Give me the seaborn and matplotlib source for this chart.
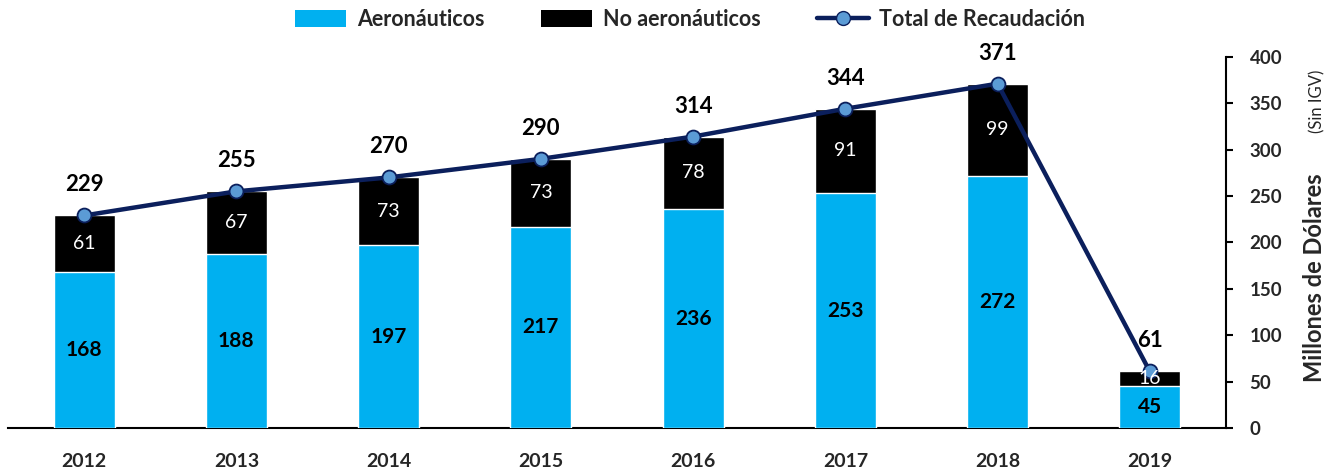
import matplotlib
matplotlib.use('Agg')
import matplotlib.pyplot as plt
from matplotlib.patches import Patch
from matplotlib.lines import Line2D
from matplotlib.font_manager import FontProperties
import matplotlib.transforms as mtransforms
import pandas as pd
import seaborn as sns

# ---------------------------
# Data
# ---------------------------
years = ["2012", "2013", "2014", "2015", "2016", "2017", "2018", "2019"]
aero = [168, 188, 197, 217, 236, 253, 272, 45]
no_aero = [61, 67, 73, 73, 78, 91, 99, 16]
total = [229, 255, 270, 290, 314, 344, 371, 61]

df = pd.DataFrame({"Año": years, "Aero": aero, "NoAero": no_aero, "Total": total})

# colours
c_aero = "#00B0F0"
c_noaero = "#000000"
c_line = "#0B1F5C"
c_marker = "#5B9BD5"

sns.set_theme(style="white")
plt.rcParams['font.family'] = ['Lato', 'DejaVu Sans']

fig = plt.figure(figsize=(13.34, 4.73), dpi=100)
ax = fig.add_axes([0.006, 0.095, 0.913, 0.785])

# stacked bars: total (black) first, aero (blue) on top of it
sns.barplot(data=df, x="Año", y="Total", color=c_noaero, saturation=1,
            width=0.4, ax=ax, zorder=2)
sns.barplot(data=df, x="Año", y="Aero", color=c_aero, saturation=1,
            width=0.4, ax=ax, zorder=3)

# total line
sns.lineplot(data=df, x="Año", y="Total", sort=False, color=c_line,
             linewidth=3.2, marker="o", markersize=10,
             markerfacecolor=c_marker, markeredgecolor=c_line,
             markeredgewidth=1.3, ax=ax, zorder=5)

# labels
for i in range(len(years)):
    ax.text(i, aero[i] / 2, str(aero[i]), ha="center", va="center",
            fontsize=15, fontweight="bold", color="black", zorder=6)
    ax.text(i, aero[i] + no_aero[i] / 2, str(no_aero[i]), ha="center",
            va="center", fontsize=14, color="white", zorder=6)
    ax.annotate(str(total[i]), (i, total[i]), xytext=(0, 22),
                textcoords="offset points", ha="center", va="center",
                fontsize=16, fontweight="bold", color="black", zorder=6)

# axes styling
ax.set_xlim(-0.5, 7.5)
ax.set_ylim(0, 400)
ax.set_yticks(range(0, 401, 50))
ax.yaxis.tick_right()
for s in ["left", "top"]:
    ax.spines[s].set_visible(False)
ax.spines["bottom"].set_color("black")
ax.spines["bottom"].set_linewidth(1.5)
ax.spines["right"].set_color("black")
ax.spines["right"].set_linewidth(1.5)
ax.tick_params(axis="x", length=0, pad=18, labelsize=14)
ax.tick_params(axis="y", right=True, left=False, direction="out", length=5,
               width=1.5, color="black", pad=12, labelsize=13.5)
for lbl in ax.get_xticklabels() + ax.get_yticklabels():
    lbl.set_fontweight("bold")
ax.set_xlabel("")
ax.set_ylabel("")

# right-hand axis title in two parts
tr = mtransforms.blended_transform_factory(ax.transAxes, ax.transData)
ax.text(1.079, 50, "Millones de Dólares", rotation=90, rotation_mode="anchor",
        ha="left", va="baseline", fontsize=17, fontweight="bold",
        transform=tr, clip_on=False)
ax.text(1.079, 318, "(Sin IGV)", rotation=90, rotation_mode="anchor",
        ha="left", va="baseline", fontsize=12, transform=tr, clip_on=False)

# legend
handles = [
    Patch(facecolor=c_aero, edgecolor="none"),
    Patch(facecolor=c_noaero, edgecolor="none"),
    Line2D([0], [0], color=c_line, linewidth=3.2, marker="o", markersize=10,
           markerfacecolor=c_marker, markeredgecolor=c_line),
]
labels = ["Aeronáuticos", "No aeronáuticos", "Total de Recaudación"]
legend_font = FontProperties(family=['Lato', 'DejaVu Sans'], weight='bold', size=15.5)
leg = ax.legend(handles, labels, loc="center", bbox_to_anchor=(0.56, 1.10),
                ncol=3, frameon=False, handlelength=2.4, handleheight=0.85,
                handletextpad=0.5, columnspacing=2.6, prop=legend_font)

fig.savefig("out.png", dpi=100)
plt.close(fig)
